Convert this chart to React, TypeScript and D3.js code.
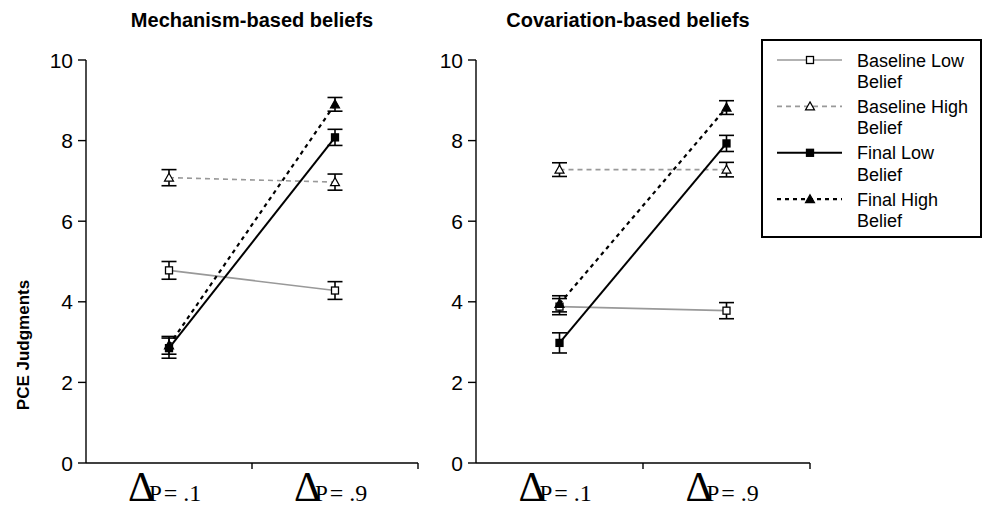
import React from 'react';
import * as d3 from 'd3';

const categories = ['.1', '.9'];
const seriesNames = ['Baseline Low Belief', 'Baseline High Belief', 'Final Low Belief', 'Final High Belief'];
const legendLines = [['Baseline Low', 'Belief'], ['Baseline High', 'Belief'], ['Final Low', 'Belief'], ['Final High', 'Belief']];
const yTicks = [0, 2, 4, 6, 8, 10];

const mechanismMeans = [[4.78, 4.28], [7.08, 6.97], [2.85, 8.08], [2.92, 8.9]];
const mechanismErrors = [[0.22, 0.22], [0.2, 0.2], [0.25, 0.2], [0.22, 0.17]];
const covariationMeans = [[3.88, 3.78], [7.28, 7.28], [2.98, 7.93], [3.95, 8.82]];
const covariationErrors = [[0.2, 0.2], [0.17, 0.18], [0.25, 0.2], [0.2, 0.17]];

const styles = [
  { color: '#999', dash: '', width: 1.6, marker: 'square', fill: '#fff' },
  { color: '#999', dash: '5,4', width: 1.6, marker: 'triangle', fill: '#fff' },
  { color: '#000', dash: '', width: 2, marker: 'square', fill: '#000' },
  { color: '#000', dash: '4,4', width: 2.2, marker: 'triangle', fill: '#000' },
];

const SANS = 'Arial, "Liberation Sans", sans-serif';
const SERIF = '"Times New Roman", "Liberation Serif", serif';

const y = d3.scaleLinear().domain([0, 10]).range([463, 60]);

function Marker({ x, yv, s }: any) {
  if (s.marker === 'square') {
    return <rect x={x - 3.5} y={yv - 3.5} width={7} height={7} fill={s.fill} stroke="#000" strokeWidth={1.3} />;
  }
  const p = d3.path();
  p.moveTo(x, yv - 4.5);
  p.lineTo(x + 4.5, yv + 3.5);
  p.lineTo(x - 4.5, yv + 3.5);
  p.closePath();
  return <path d={p.toString()} fill={s.fill} stroke="#000" strokeWidth={1.2} />;
}

function Panel({ x0, x1, title, titleX, means, errors }: any) {
  const x = d3.scaleBand<string>().domain(categories).range([x0, x1]).paddingInner(0).paddingOuter(0);
  const cx = (c: string) => (x(c) as number) + x.bandwidth() / 2;
  const line = d3.line<[number, number]>().x(d => d[0]).y(d => d[1]);
  return (
    <g>
      <text x={titleX} y={27} textAnchor="middle" fontFamily={SANS} fontWeight="bold" fontSize={20}>{title}</text>
      {/* y axis */}
      <line x1={x0} x2={x0} y1={y(10)} y2={y(0)} stroke="#000" strokeWidth={1.4} />
      {yTicks.map(t => (
        <g key={t}>
          <line x1={x0 - 8} x2={x0} y1={y(t)} y2={y(t)} stroke="#000" strokeWidth={1.4} />
          <text x={x0 - 13} y={y(t)} dy="0.36em" textAnchor="end" fontFamily={SANS} fontSize={21}>{t}</text>
        </g>
      ))}
      {/* x axis */}
      <line x1={x0} x2={x1} y1={y(0)} y2={y(0)} stroke="#000" strokeWidth={1.4} />
      {[x0 + x.bandwidth(), x1].map((tx, i) => (
        <line key={i} x1={tx} x2={tx} y1={y(0)} y2={y(0) + 6} stroke="#000" strokeWidth={1.4} />
      ))}
      {categories.map(c => (
        <text key={c} x={cx(c) - 41} y={501} fontFamily={SERIF}>
          <tspan fontSize={42}>Δ</tspan>
          <tspan fontSize={23} dx={-6}>P</tspan>
          <tspan fontSize={24} dx={2}>{'= ' + c}</tspan>
        </text>
      ))}
      {/* lines */}
      {means.map((m: number[], si: number) => {
        const s = styles[si];
        const pts: [number, number][] = categories.map((c, ci) => [cx(c), y(m[ci])]);
        return <path key={'l' + si} d={line(pts) as string} fill="none" stroke={s.color} strokeWidth={s.width} strokeDasharray={s.dash} />;
      })}
      {/* error bars */}
      {means.map((m: number[], si: number) =>
        categories.map((c, ci) => {
          const px = cx(c);
          const top = y(m[ci] + errors[si][ci]);
          const bot = y(m[ci] - errors[si][ci]);
          return (
            <g key={'e' + si + ci} stroke="#000" strokeWidth={1.6}>
              <line x1={px} x2={px} y1={top} y2={bot} />
              <line x1={px - 7.5} x2={px + 7.5} y1={top} y2={top} />
              <line x1={px - 7.5} x2={px + 7.5} y1={bot} y2={bot} />
            </g>
          );
        })
      )}
      {means.map((m: number[], si: number) =>
        categories.map((c, ci) => <Marker key={'m' + si + ci} x={cx(c)} yv={y(m[ci])} s={styles[si]} />)
      )}
    </g>
  );
}

function Legend() {
  const lx = 762, ly = 40, w = 219, h = 197;
  return (
    <g>
      <rect x={lx} y={ly} width={w} height={h} fill="#fff" stroke="#000" strokeWidth={2} />
      {seriesNames.map((n, i) => {
        const s = styles[i];
        const rowY = 60 + i * 46.4;
        return (
          <g key={n}>
            <line x1={777} x2={842} y1={rowY} y2={rowY} stroke={s.color} strokeWidth={s.width} strokeDasharray={s.dash} />
            <Marker x={810} yv={rowY} s={s} />
            <text x={857} y={rowY + 6.5} fontFamily={SANS} fontSize={18}>
              <tspan x={857}>{legendLines[i][0]}</tspan>
              <tspan x={857} dy={21.5}>{legendLines[i][1]}</tspan>
            </text>
          </g>
        );
      })}
    </g>
  );
}

export default function App() {
  return (
    <svg width={982} height={511} style={{ position: 'absolute', left: 0, top: 0, background: '#fff' }}>
      <rect width={982} height={511} fill="#fff" />
      <text transform="translate(29,345) rotate(-90)" textAnchor="middle" fontFamily={SANS} fontWeight="bold" fontSize={17}>PCE Judgments</text>
      <Panel x0={86} x1={418} title="Mechanism-based beliefs" titleX={252} means={mechanismMeans} errors={mechanismErrors} />
      <Panel x0={476} x1={810} title="Covariation-based beliefs" titleX={628} means={covariationMeans} errors={covariationErrors} />
      <Legend />
    </svg>
  );
}
